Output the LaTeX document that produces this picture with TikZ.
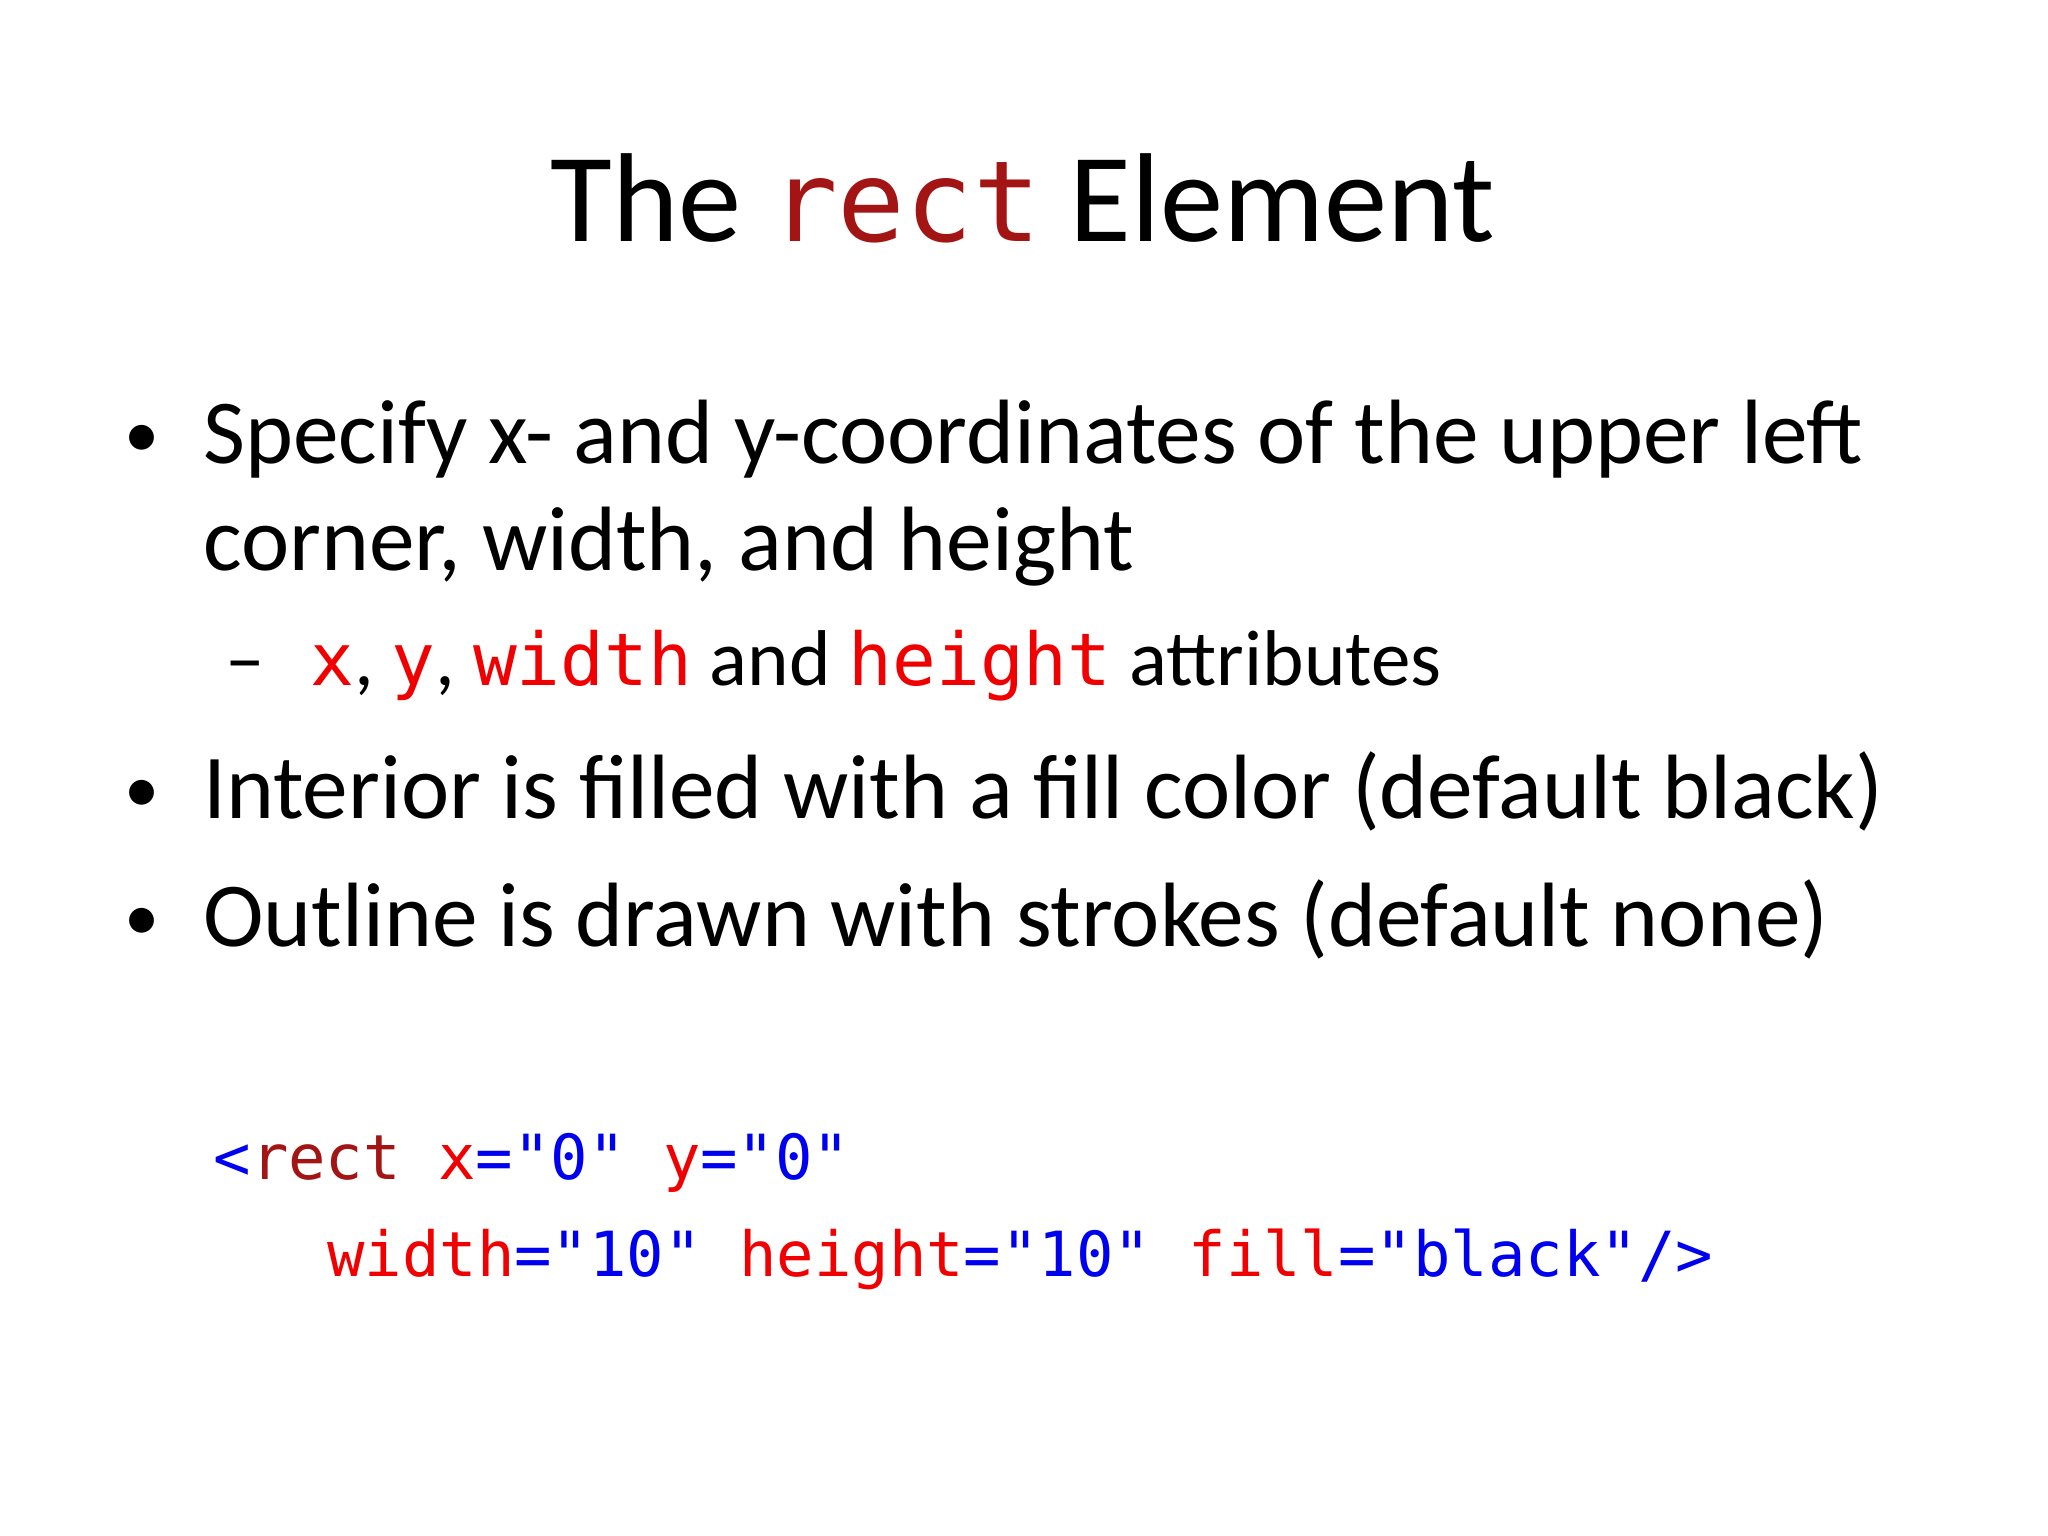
\documentclass[tikz,border=0pt]{standalone}
\usepackage{fontspec}
\setmainfont{Carlito}
\setmonofont{DejaVu Sans Mono}
\definecolor{dred}{RGB}{163,21,21}
\definecolor{cred}{RGB}{240,0,0}
\definecolor{cblue}{RGB}{0,0,240}
\begin{document}
\begin{tikzpicture}[x=0.01306cm,y=-0.01306cm,
  txt/.style={anchor=base west,inner sep=0pt,font=\fontsize{26}{31}\selectfont},
  bulletmark/.style={anchor=base west,inner sep=0pt,font=\fontsize{20}{24}\selectfont},
  sub/.style={anchor=base west,inner sep=0pt,font=\fontsize{22.5}{27}\selectfont},
  code/.style={anchor=base west,inner sep=0pt,font=\ttfamily\fontsize{17.7}{21}\selectfont}]
\newcommand\cm[1]{\textcolor{cred}{\ttfamily\fontsize{20.7}{25}\selectfont #1}}
\useasboundingbox[fill=white] (0,0) rectangle (1568,1176);
\node[anchor=base,inner sep=0pt,font=\fontsize{36}{43}\selectfont] (title) at (783,185)
  {The \textcolor{dred}{\ttfamily\fontsize{32}{38}\selectfont rect} Element};
\node[bulletmark] (b1m) at (95,350) {•};
\node[txt] (b1) at (155,355) {Specify x- and y-coordinates of the upper left};
\node[txt] (b1b) at (155,437) {corner, width, and height};
\node[sub] (s1m) at (172,525) {–};
\node[sub] (s1) at (237,525) {\cm{x}, \cm{y}, \cm{width} and \cm{height} attributes};
\node[bulletmark] (b2m) at (95,622) {•};
\node[txt] (b2) at (155,627) {Interior is filled with a fill color (default black)};
\node[bulletmark] (b3m) at (95,720) {•};
\node[txt] (b3) at (155,725) {Outline is drawn with strokes (default none)};
\node[code] (c1) at (163,903) {\textcolor{cblue}{<}\textcolor{dred}{rect} \textcolor{cred}{x}\textcolor{cblue}{="0"} \textcolor{cred}{y}\textcolor{cblue}{="0"}};
\node[code] (c2) at (250,977) {\textcolor{cred}{width}\textcolor{cblue}{="10"} \textcolor{cred}{height}\textcolor{cblue}{="10"} \textcolor{cred}{fill}\textcolor{cblue}{="black"/>}};
\end{tikzpicture}
\end{document}
